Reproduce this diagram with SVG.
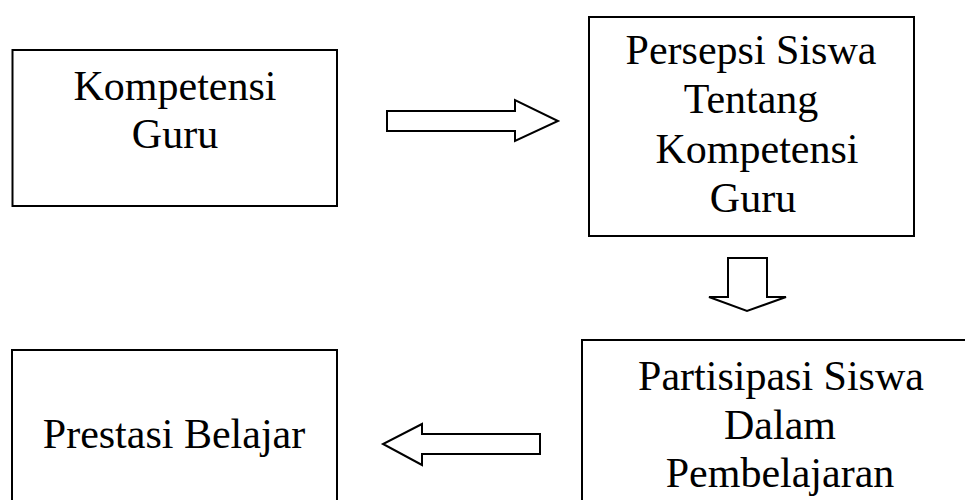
<svg xmlns="http://www.w3.org/2000/svg" width="965" height="500" viewBox="0 0 965 500">
  <style>
    .box { fill: #ffffff; stroke: #000000; stroke-width: 2; }
    .arrow { fill: #ffffff; stroke: #000000; stroke-width: 2; stroke-linejoin: miter; }
    .label { font-family: "Liberation Serif", "Times New Roman", serif; font-size: 42px; fill: #000000; text-anchor: middle; }
  </style>
  <rect width="965" height="500" fill="#ffffff"/>

  <g id="connectors">
    <!-- right arrow: Kompetensi Guru -> Persepsi -->
    <polygon class="arrow" points="387,111 515,111 515,100 558,121 515,141 515,131 387,131"/>
    <!-- down arrow: Persepsi -> Partisipasi -->
    <polygon class="arrow" points="728,258 767,258 767,297 786,297 747,311 709,297 728,297"/>
    <!-- left arrow: Partisipasi -> Prestasi -->
    <polygon class="arrow" points="540,434 422,434 422,424 383,444 422,465 422,454 540,454"/>
  </g>

  <g id="node-kompetensi">
    <rect class="box" x="12.5" y="50" width="324.5" height="156"/>
    <text class="label" x="175" y="100">Kompetensi</text>
    <text class="label" x="175" y="148">Guru</text>
  </g>

  <g id="node-persepsi">
    <rect class="box" x="589" y="17" width="325" height="219"/>
    <text class="label" x="751" y="64">Persepsi Siswa</text>
    <text class="label" x="751" y="113">Tentang</text>
    <text class="label" x="757" y="163">Kompetensi</text>
    <text class="label" x="753" y="212">Guru</text>
  </g>

  <g id="node-prestasi">
    <rect class="box" x="12" y="350" width="325" height="170"/>
    <text class="label" x="174" y="448">Prestasi Belajar</text>
  </g>

  <g id="node-partisipasi">
    <rect class="box" x="582" y="340" width="400" height="180"/>
    <text class="label" x="781" y="390">Partisipasi Siswa</text>
    <text class="label" x="780" y="439">Dalam</text>
    <text class="label" x="780" y="487">Pembelajaran</text>
  </g>
</svg>
